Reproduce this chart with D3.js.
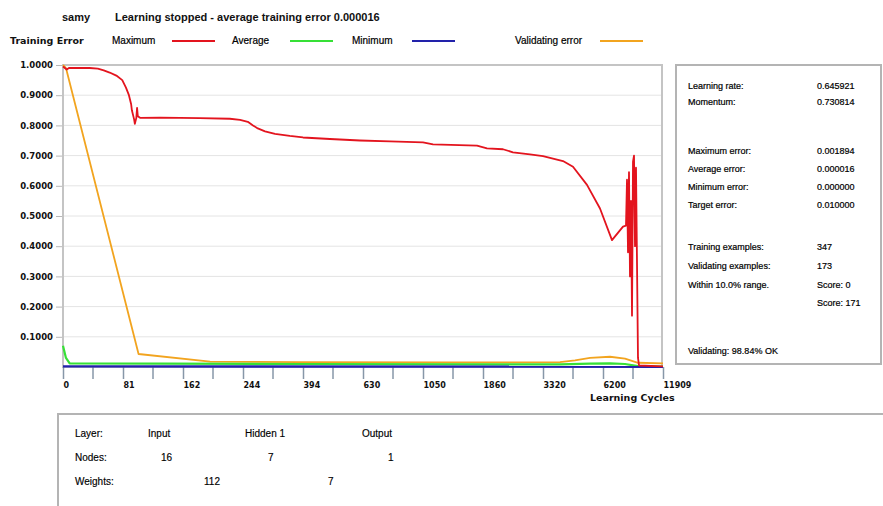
<!DOCTYPE html>
<html><head><meta charset="utf-8">
<script src="https://cdn.jsdelivr.net/npm/d3@7"></script>
<style>
body{margin:0;background:#fff}
text{font-family:"Liberation Sans",Arial,sans-serif;font-size:10px;fill:#111}
.bold{font-family:"DejaVu Sans",sans-serif;font-weight:bold;font-size:8.5px}
.big{font-size:9.5px}
.hdr{font-size:11px;font-weight:bold;fill:#111}
.leg{font-size:10px;fill:#000;stroke:#000;stroke-width:0.2}
.pan{font-size:9px;fill:#000;stroke:#000;stroke-width:0.2}
.bot{font-size:10px;fill:#000;stroke:#000;stroke-width:0.15}
</style>
</head><body>
<svg id="c" width="883" height="506"></svg>
<script>
// ---- data ----
const cycleTicks = [0, 81, 162, 244, 394, 630, 1050, 1860, 3320, 6200, 11909];
const yTicks = [0.1, 0.2, 0.3, 0.4, 0.5, 0.6, 0.7, 0.8, 0.9, 1.0];

const maxCycles = [0, 5, 8, 12, 36, 47, 55, 63, 72, 80, 85, 89, 92, 93, 96, 97, 99, 100, 101, 104, 131, 185, 226, 240, 256, 269, 281, 299, 324, 361, 394, 500, 618, 819, 1050, 1185, 1779, 1957, 2346, 2589, 3002, 3320, 4280, 4760, 5432, 6056, 7056, 8103, 8388, 8484, 8579, 8674, 8769, 8864, 8960, 9055, 9150, 9245, 9340, 9530, 9625, 11909];
const maxError  = [0.995, 0.985, 0.99, 0.99, 0.99, 0.988, 0.982, 0.975, 0.965, 0.95, 0.925, 0.9, 0.87, 0.85, 0.82, 0.805, 0.825, 0.858, 0.83, 0.825, 0.826, 0.824, 0.822, 0.818, 0.812, 0.8, 0.79, 0.78, 0.772, 0.765, 0.76, 0.755, 0.75, 0.747, 0.744, 0.737, 0.733, 0.724, 0.721, 0.711, 0.704, 0.698, 0.682, 0.663, 0.603, 0.525, 0.42, 0.465, 0.468, 0.62, 0.38, 0.645, 0.30, 0.55, 0.17, 0.68, 0.70, 0.40, 0.66, 0.03, 0.005, 0.002];

const avgCycles = [0, 4, 9, 386, 2346, 4136, 5576, 6866, 8293, 9530, 11909];
const avgError  = [0.07, 0.03, 0.012, 0.01, 0.009, 0.009, 0.011, 0.012, 0.01, 0.003, 0.001];

const minCycles = [0, 11909];
const minError  = [0.002, 0.001];

const valCycles = [0, 4, 102, 199, 386, 1415, 4136, 4856, 5576, 6866, 8293, 9530, 11909];
const valError  = [1.0, 0.99, 0.043, 0.018, 0.016, 0.015, 0.016, 0.022, 0.03, 0.034, 0.028, 0.014, 0.012];

const statLabels = ["Learning rate:", "Momentum:", "Maximum error:", "Average error:", "Minimum error:", "Target error:", "Training examples:", "Validating examples:", "Within 10.0% range.", ""];
const statValues = ["0.645921", "0.730814", "0.001894", "0.000016", "0.000000", "0.010000", "347", "173", "Score: 0", "Score: 171"];
const layerNames = ["Input", "Hidden 1", "Output"];
const layerNodes = ["16", "7", "1"];
const layerWeights = ["112", "7"];

// ---- drawing ----
const svg = d3.select("#c");
svg.append("rect").attr("width", 883).attr("height", 506).attr("fill", "#fff");

const L = 63, R = 663, T = 65, B = 367;
const x = d3.scaleLinear().domain(cycleTicks).range(cycleTicks.map((d, i) => L + i * (R - L) / (cycleTicks.length - 1)));
const y = d3.scaleLinear().domain([0, 1]).range([B, T]);

// header
svg.append("text").attr("class", "hdr").attr("x", 62).attr("y", 21).text("samy");
svg.append("text").attr("class", "hdr").attr("x", 115).attr("y", 21).text("Learning stopped - average training error 0.000016");

// legend
const legend = [
  {t: "Maximum", x: 112, lx: 172, c: "#e3141e"},
  {t: "Average", x: 232, lx: 290, c: "#36e036"},
  {t: "Minimum", x: 352, lx: 412, c: "#2222aa"},
  {t: "Validating error", x: 515, lx: 600, c: "#f2a41f"}
];
svg.append("text").attr("class", "bold big").attr("x", 10).attr("y", 44).text("Training Error");
legend.forEach(d => {
  svg.append("text").attr("class", "leg").attr("x", d.x).attr("y", 44).text(d.t);
  svg.append("line").attr("x1", d.lx).attr("x2", d.lx + 43).attr("y1", 41).attr("y2", 41)
    .attr("stroke", d.c).attr("stroke-width", 2);
});

// grid
svg.append("g").selectAll("line").data(yTicks.slice(0, -1)).join("line")
  .attr("x1", L).attr("x2", R).attr("y1", d => y(d)).attr("y2", d => y(d))
  .attr("stroke", "#e4e4e4").attr("stroke-width", 1);

// frame
svg.append("rect").attr("x", L).attr("y", T).attr("width", R - L - 1).attr("height", B - T)
  .attr("fill", "none").attr("stroke", "#c4c4c4").attr("stroke-width", 2);

// y axis
const ya = svg.append("g").attr("transform", `translate(${L - 1},0)`)
  .call(d3.axisLeft(y).tickValues(yTicks).tickFormat(d3.format(".4f")).tickSize(6).tickPadding(3));
ya.select(".domain").remove();
ya.selectAll(".tick line").attr("stroke", "#b8b8b8");
ya.selectAll("text").attr("class", "bold").attr("font-size", null).attr("font-family", null).attr("fill", "#1a1a1a");

// x axis
const xa = svg.append("g").attr("transform", `translate(0,${B})`)
  .call(d3.axisBottom(x).tickValues(cycleTicks).tickFormat(d3.format("d")).tickSize(12).tickPadding(3));
xa.select(".domain").remove();
xa.selectAll(".tick line").attr("stroke", "#8797a8").attr("stroke-width", 1.5);
xa.selectAll("text").attr("class", "bold").attr("font-size", null).attr("font-family", null).attr("fill", "#1a1a1a")
  .style("font-size", "8px").attr("text-anchor", "start").attr("dx", 0);
const mids = d3.range(cycleTicks.length - 1).map(i => x.invert((x(cycleTicks[i]) + x(cycleTicks[i + 1])) / 2));
svg.append("g").selectAll("line").data(mids).join("line")
  .attr("x1", d => x(d)).attr("x2", d => x(d)).attr("y1", B).attr("y2", B + 12)
  .attr("stroke", "#8797a8").attr("stroke-width", 1.5);
svg.append("text").attr("class", "bold big").attr("x", 590).attr("y", 401).text("Learning Cycles");

// series
const line = d3.line().x(d => x(d[0])).y(d => y(d[1]));
const series = [
  {xs: valCycles, ys: valError, c: "#f2a41f", w: 1.8},
  {xs: avgCycles, ys: avgError, c: "#36e036", w: 2.2},
  {xs: minCycles, ys: minError, c: "#2222aa", w: 2.4},
  {xs: maxCycles, ys: maxError, c: "#e3141e", w: 1.8}
];
series.forEach(s => {
  svg.append("path").datum(s.xs.map((v, i) => [v, s.ys[i]]))
    .attr("d", line).attr("fill", "none").attr("stroke", s.c).attr("stroke-width", s.w)
    .attr("stroke-linejoin", "round");
});

// right panel
svg.append("rect").attr("x", 676).attr("y", 65).attr("width", 205).attr("height", 299)
  .attr("fill", "#fff").attr("stroke", "#b4b4b4").attr("stroke-width", 2);
const rowY = [89, 105, 154, 172, 190, 208, 250, 269, 288, 306];
statLabels.forEach((t, i) => {
  svg.append("text").attr("class", "pan").attr("x", 688).attr("y", rowY[i]).text(t);
  svg.append("text").attr("class", "pan").attr("x", 817).attr("y", rowY[i]).text(statValues[i]);
});
svg.append("text").attr("class", "pan").attr("x", 688).attr("y", 354).text("Validating: 98.84% OK");

// bottom panel
svg.append("rect").attr("x", 58).attr("y", 414).attr("width", 840).attr("height", 110)
  .attr("fill", "#fff").attr("stroke", "#b4b4b4").attr("stroke-width", 2);
svg.append("text").attr("class", "bot").attr("x", 75).attr("y", 437).text("Layer:");
svg.append("text").attr("class", "bot").attr("x", 75).attr("y", 461).text("Nodes:");
svg.append("text").attr("class", "bot").attr("x", 75).attr("y", 485).text("Weights:");
const nameX = [148, 245, 362], nodeX = [161, 268, 388], wX = [204, 328];
layerNames.forEach((t, i) => svg.append("text").attr("class", "bot").attr("x", nameX[i]).attr("y", 437).text(t));
layerNodes.forEach((t, i) => svg.append("text").attr("class", "bot").attr("x", nodeX[i]).attr("y", 461).text(t));
layerWeights.forEach((t, i) => svg.append("text").attr("class", "bot").attr("x", wX[i]).attr("y", 485).text(t));
</script>
</body></html>
